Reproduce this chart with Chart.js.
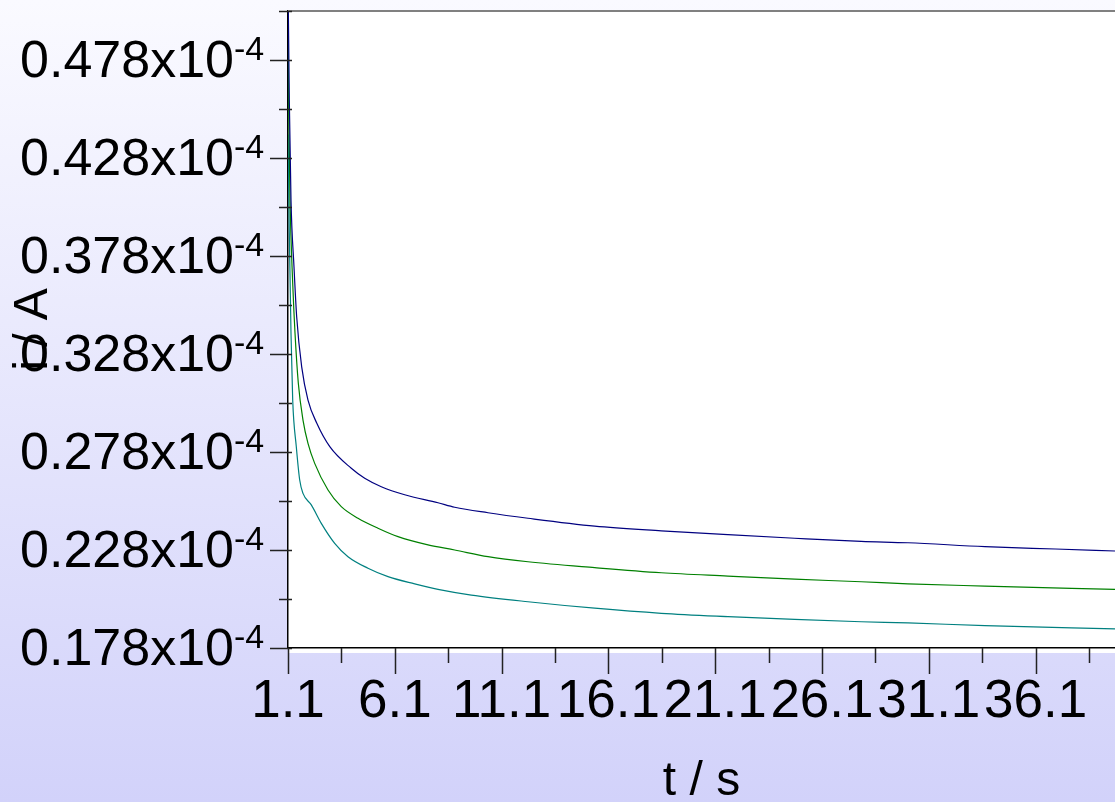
<!DOCTYPE html>
<html><head><meta charset="utf-8">
<script src="https://cdn.jsdelivr.net/npm/chart.js@4.4.1/dist/chart.umd.min.js"></script>
<style>html,body{margin:0;padding:0;overflow:hidden;background:#fff}#wrap{width:1115px;height:802px;position:relative}canvas{display:block}</style>
</head><body><div id="wrap"><canvas id="c" width="1115" height="802"></canvas></div>
<script>
const xTickValues = [1.1, 6.1, 11.1, 16.1, 21.1, 26.1, 31.1, 36.1];
const xTickLabels = ['1.1', '6.1', '11.1', '16.1', '21.1', '26.1', '31.1', '36.1'];
const xMinorTicks = [3.6, 8.6, 13.6, 18.6, 23.6, 28.6, 33.6, 38.6];
const yTickValues = [0.178, 0.228, 0.278, 0.328, 0.378, 0.428, 0.478];
const yTickLabels = ['0.178x10', '0.228x10', '0.278x10', '0.328x10', '0.378x10', '0.428x10', '0.478x10'];
const yTickExponent = '-4';
const yMinorTicks = [0.203, 0.253, 0.303, 0.353, 0.403, 0.453, 0.503];
const xTitle = 't / s';
const yTitle = 'i / A';

const tBlue = [1.1, 1.161, 1.24, 1.381, 1.507, 1.741, 2.036, 2.444, 3.066, 4.063, 4.691, 5.468, 6.563, 8.122, 8.904, 10.463, 12.336, 15.459, 18.577, 21.699, 24.822, 27.94, 30.126, 33.731, 37.036, 39.82];
const iBlue = [0.52, 0.4576, 0.4066, 0.3724, 0.3469, 0.3214, 0.3045, 0.2928, 0.2806, 0.2697, 0.2646, 0.2603, 0.2562, 0.2521, 0.2498, 0.2470, 0.2442, 0.2402, 0.2378, 0.2358, 0.2340, 0.2324, 0.2317, 0.2297, 0.2285, 0.2275];

const tGreen = [1.1, 1.128, 1.194, 1.32, 1.428, 1.582, 1.802, 2.036, 2.35, 2.973, 3.595, 4.377, 5.313, 6.25, 7.654, 8.904, 10.463, 12.336, 15.459, 18.577, 21.699, 24.822, 27.94, 30.126, 33.731, 39.82];
const iGreen = [0.495, 0.4576, 0.4066, 0.3642, 0.3387, 0.3132, 0.2943, 0.2824, 0.2722, 0.2586, 0.2501, 0.2442, 0.2391, 0.2348, 0.2306, 0.2280, 0.2246, 0.2220, 0.2190, 0.2164, 0.2147, 0.2131, 0.2118, 0.2107, 0.2096, 0.2079];

const tTeal = [1.1, 1.161, 1.24, 1.32, 1.489, 1.648, 1.802, 2.191, 2.659, 3.286, 3.909, 4.845, 5.782, 7.032, 8.122, 9.682, 12.336, 15.459, 18.577, 21.699, 24.822, 27.94, 30.126, 33.731, 39.82];
const iTeal = [0.44, 0.3897, 0.3387, 0.3045, 0.2807, 0.2637, 0.2569, 0.2510, 0.2416, 0.2314, 0.2246, 0.2187, 0.2144, 0.2107, 0.2079, 0.2050, 0.2016, 0.1983, 0.1957, 0.1940, 0.1926, 0.1914, 0.1908, 0.1894, 0.1878];

const FONT = "'Liberation Sans', Arial, sans-serif";
const toPts = (ts, vs) => ts.map((t, i) => ({x: t, y: vs[i]}));

const decor = {
  id: 'decor',
  beforeDraw(chart) {
    const {ctx, chartArea: a, width, height} = chart;
    ctx.save();
    const g = ctx.createLinearGradient(0, 0, 0, height);
    g.addColorStop(0, '#fafaff');
    g.addColorStop(1, '#d2d2fa');
    ctx.fillStyle = g;
    ctx.fillRect(0, 0, width, height);
    ctx.fillStyle = '#ffffff';
    ctx.fillRect(a.left, a.top, a.right - a.left, a.bottom - a.top + 5);
    ctx.restore();
  },
  afterDraw(chart) {
    const {ctx, chartArea: a, scales: {x, y}} = chart;
    ctx.save();
    ctx.strokeStyle = '#808080';
    ctx.lineWidth = 2;
    ctx.beginPath();
    ctx.moveTo(a.left, a.top);
    ctx.lineTo(a.right, a.top);
    ctx.stroke();
    ctx.strokeStyle = '#222';
    ctx.lineWidth = 1.5;
    ctx.beginPath();
    yTickValues.forEach(v => { const p = Math.round(y.getPixelForValue(v)) + 0.5; ctx.moveTo(a.left - 18, p); ctx.lineTo(a.left + 4, p); });
    yMinorTicks.forEach(v => { const p = Math.round(y.getPixelForValue(v)) + 0.5; ctx.moveTo(a.left - 9, p); ctx.lineTo(a.left + 4, p); });
    xTickValues.forEach(v => { const p = Math.round(x.getPixelForValue(v)) + 0.5; ctx.moveTo(p, a.bottom); ctx.lineTo(p, a.bottom + 26); });
    xMinorTicks.forEach(v => { const p = Math.round(x.getPixelForValue(v)) + 0.5; ctx.moveTo(p, a.bottom); ctx.lineTo(p, a.bottom + 15); });
    ctx.stroke();
    ctx.fillStyle = '#000';
    ctx.font = '34px ' + FONT;
    ctx.textAlign = 'left';
    ctx.textBaseline = 'alphabetic';
    yTickValues.forEach(v => ctx.fillText(yTickExponent, a.left - 54, y.getPixelForValue(v)));
    ctx.restore();
  }
};

new Chart(document.getElementById('c'), {
  type: 'line',
  data: {
    datasets: [
      {label: 'blue', data: toPts(tBlue, iBlue), borderColor: '#000080', borderWidth: 1.2, pointRadius: 0, cubicInterpolationMode: 'monotone', fill: false},
      {label: 'green', data: toPts(tGreen, iGreen), borderColor: '#008000', borderWidth: 1.2, pointRadius: 0, cubicInterpolationMode: 'monotone', fill: false},
      {label: 'teal', data: toPts(tTeal, iTeal), borderColor: '#008080', borderWidth: 1.2, pointRadius: 0, cubicInterpolationMode: 'monotone', fill: false}
    ]
  },
  options: {
    responsive: false,
    animation: false,
    devicePixelRatio: 1,
    layout: {padding: {top: 11, left: 0, right: 0, bottom: 0}},
    plugins: {legend: {display: false}, tooltip: {enabled: false}},
    scales: {
      x: {
        type: 'linear', position: 'bottom', min: 1.1, max: 39.82,
        afterBuildTicks: s => { s.ticks = xTickValues.map(v => ({value: v})); },
        afterFit: s => { s.height = 154; s.paddingLeft = 0; s.paddingRight = 0; },
        ticks: {autoSkip: false, maxRotation: 0, minRotation: 0, padding: 23, color: '#000',
          font: {family: FONT, size: 53},
          callback: v => xTickLabels[xTickValues.indexOf(v)] ?? ''},
        grid: {display: false, drawTicks: false},
        border: {display: true, color: '#000', width: 1.5},
        title: {display: true, text: xTitle, color: '#000', font: {family: FONT, size: 48}, padding: {top: 0, bottom: -9}}
      },
      y: {
        type: 'linear', position: 'left', min: 0.178, max: 0.503,
        afterBuildTicks: s => { s.ticks = yTickValues.map(v => ({value: v})); },
        afterFit: s => { s.width = 288; s.paddingTop = 0; s.paddingBottom = 0; },
        ticks: {autoSkip: false, padding: 54, labelOffset: 3, color: '#000',
          font: {family: FONT, size: 52},
          callback: v => yTickLabels[yTickValues.indexOf(v)] ?? ''},
        grid: {display: false, drawTicks: false},
        border: {display: true, color: '#000', width: 1.5},
        title: {display: true, text: yTitle, color: '#000', font: {family: FONT, size: 48}, padding: {top: 4.6, bottom: -80}}
      }
    }
  },
  plugins: [decor]
});
</script>
</body></html>
